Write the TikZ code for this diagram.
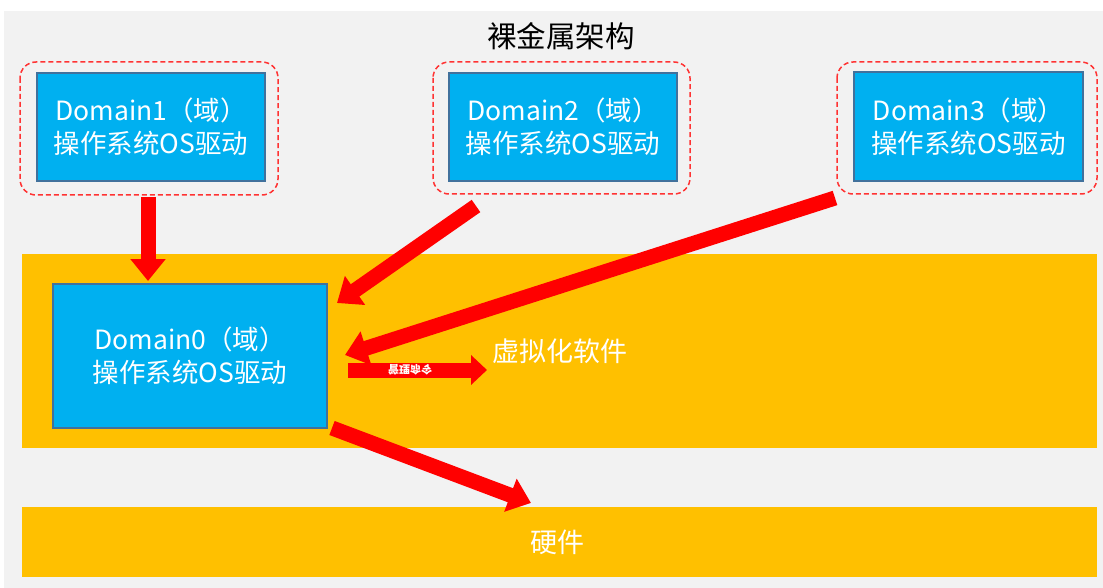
\documentclass[tikz,border=0pt]{standalone}
\usepackage{fontspec}
\setmainfont{Noto Sans CJK SC}
\usetikzlibrary{arrows.meta}
\definecolor{bggrey}{HTML}{F2F2F2}
\definecolor{band}{HTML}{FFC000}
\definecolor{boxblue}{HTML}{00B0F0}
\definecolor{boxedge}{HTML}{41719C}
\definecolor{dashred}{HTML}{FF3333}
\tikzset{
  dombox/.style={fill=boxblue, draw=boxedge, line width=1.2pt, text=white, align=center,
    font=\fontsize{26.5}{33}\selectfont, inner sep=0pt},
  frame/.style={draw=dashred, line width=1.5pt, dash pattern=on 5pt off 3pt, rounded corners=16pt},
  bandbox/.style={fill=band, draw=none},
  bigarrow/.style={draw=red, line width=15pt, -{Triangle[width=34pt,length=22pt]}},
  smallarrow/.style={draw=red, line width=15pt, -{Triangle[width=29pt,length=16pt]}},
  lbl/.style={text=white, font=\fontsize{27}{30}\selectfont},
}
\begin{document}
\begin{tikzpicture}[x=1pt,y=-1pt]
\useasboundingbox (0,0) rectangle (1103,588);
\fill[bggrey] (4,11) rectangle (1103,588);
\node[font=\fontsize{29.5}{32}\selectfont] (title) at (561,36) {裸金属架构};
% bands
\path[bandbox] (22,254) rectangle (1097,448);
\path[bandbox] (22,507) rectangle (1097,577);
% frames
\draw[frame] (20,62) rectangle (278,195);
\draw[frame] (433,62) rectangle (690,194);
\draw[frame] (837,62) rectangle (1097,194);
% domain boxes
\node[dombox, minimum width=228pt, minimum height=108pt] (d1) at (151,127) {Domain1（域）\\操作系统OS驱动};
\node[dombox, minimum width=228pt, minimum height=108pt] (d2) at (563,127) {Domain2（域）\\操作系统OS驱动};
\node[dombox, minimum width=229pt, minimum height=109pt] (d3) at (968.5,126.5) {Domain3（域）\\操作系统OS驱动};
\node[dombox, minimum width=274pt, minimum height=144pt] (d0) at (190,356) {Domain0（域）\\操作系统OS驱动};
% labels
\node[lbl] (virt) at (560,351) {虚拟化软件};
\node[lbl] (hw) at (557,542) {硬件};
% arrow endpoints
\coordinate (a1s) at (148,197);
\coordinate (a1e) at (148,281);
\coordinate (a2s) at (476,206);
\coordinate (a2e) at (337,303);
\coordinate (a3s) at (835,198);
\coordinate (a3e) at (345,355);
\coordinate (a4s) at (348,370);
\coordinate (a4e) at (487,370);
\coordinate (a5s) at (332,428);
\coordinate (a5e) at (531,503);
\draw[bigarrow] (a1s) -- (a1e);
\draw[bigarrow] (a2s) -- (a2e);
\draw[bigarrow] (a3s) -- (a3e);
\draw[smallarrow] (a4s) -- (a4e);
\draw[bigarrow] (a5s) -- (a5e);
\node[text=white, font=\fontsize{11}{11}\selectfont\bfseries, yscale=-1, transform shape, inner sep=0pt] (cmd) at (410,370) {管理命令};
\end{tikzpicture}
\end{document}
